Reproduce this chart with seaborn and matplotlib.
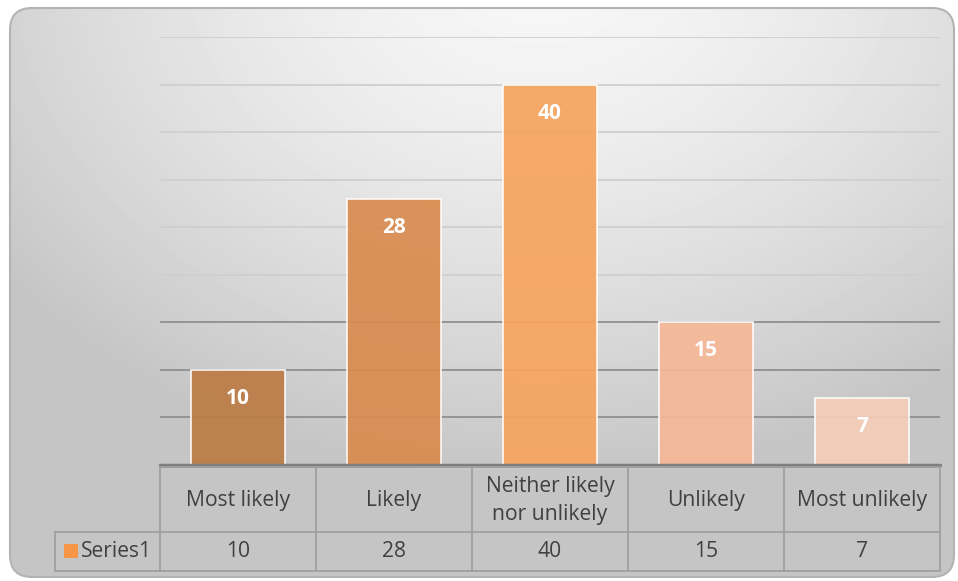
import numpy as np
import pandas as pd
import matplotlib
matplotlib.use("Agg")
import matplotlib.pyplot as plt
from matplotlib.patches import FancyBboxPatch, Rectangle
import seaborn as sns

# Survey response counts
categories = ["Most likely", "Likely", "Neither likely\nnor unlikely", "Unlikely", "Most unlikely"]
values = [10, 28, 40, 15, 7]
series_name = "Series1"
bar_colors = ["#bb7b44", "#d98b4f", "#f7a45e", "#f5b796", "#f4cdb8"]
legend_color = "#f79646"
grid_levels = [5, 10, 15, 20, 25, 30, 35, 40, 45]

sns.set_style("white")
plt.rcParams["font.family"] = ["Open Sans", "DejaVu Sans"]

W, H = 958, 581
fig = plt.figure(figsize=(W / 100, H / 100), dpi=100)
fig.patch.set_facecolor("white")

# Rounded panel with a soft radial gradient
bg = fig.add_axes([0, 0, 1, 1])
bg.set_xlim(0, W)
bg.set_ylim(H, 0)
bg.axis("off")
yy, xx = np.mgrid[0:H, 0:W]
d = np.hypot((xx - 540) * 1.0, (yy + 40) * 1.3)
shade = np.clip(0.97 - 0.21 * (d / 700) ** 1.5, 0.77, 0.97)
img = bg.imshow(shade, cmap="gray", vmin=0, vmax=1, extent=(0, W, H, 0),
                interpolation="bilinear", aspect="auto", zorder=0)
panel = FancyBboxPatch((10, 8), 944, 569, boxstyle="round,pad=0,rounding_size=22",
                       transform=bg.transData, facecolor="none",
                       edgecolor="#b3b3b3", lw=1.5, zorder=2)
bg.add_patch(panel)
img.set_clip_path(panel)

# Plot area
x0, x1 = 160, 940
base_y, top_y = 465, 37
ax = fig.add_axes([x0 / W, (H - base_y) / H, (x1 - x0) / W, (base_y - top_y) / H])
ax.patch.set_alpha(0)

df = pd.DataFrame({"category": categories, "value": values})
sns.barplot(data=df, x="category", y="value", hue="category", palette=bar_colors,
            saturation=1, width=0.6, legend=False, ax=ax, alpha=0.92,
            edgecolor=(1, 1, 1, 0.35), linewidth=1.2, zorder=3)

for lvl in grid_levels:
    ax.axhline(lvl, color="#8f8f8f" if lvl <= 15 else "#cfcfcf", lw=1.3, zorder=1)
ax.axhline(0, color="#7f7f7f", lw=2.5, zorder=4, clip_on=False)

ax.set_ylim(0, 45)
ax.set_xlim(-0.5, len(categories) - 0.5)
ax.set_axis_off()

for i, v in enumerate(values):
    ax.text(i, v - 3.0, str(v), ha="center", va="center", color="white",
            fontweight="bold", fontsize=15, zorder=5)

# Data table beneath the bars
tab = fig.add_axes([0, 0, 1, 1])
tab.set_xlim(0, W)
tab.set_ylim(H, 0)
tab.axis("off")
tab.patch.set_alpha(0)

n = len(categories)
col_w = (x1 - x0) / n
edges = x0 + col_w * np.arange(n + 1)
r0, r1, r2 = 467, 532, 571
left = 55
line_kw = dict(color="#a0a0a0", lw=1.3)
tab.plot([x0, x1], [r0, r0], **line_kw)
tab.plot([left, x1], [r1, r1], **line_kw)
tab.plot([left, x1], [r2, r2], **line_kw)
for e in edges:
    tab.plot([e, e], [r0, r2], **line_kw)
tab.plot([left, left], [r1, r2], **line_kw)

text_color = "#404040"
for i, (cat, v) in enumerate(zip(categories, values)):
    cx = x0 + col_w * (i + 0.5)
    tab.text(cx, (r0 + r1) / 2 + 1, cat, ha="center", va="center", color=text_color,
             fontsize=15.2, linespacing=1.45)
    tab.text(cx, (r1 + r2) / 2, str(v), ha="center", va="center", color=text_color,
             fontsize=15.2)

tab.add_patch(Rectangle((64, 544), 14, 14, facecolor=legend_color, edgecolor="none"))
tab.text(81, (r1 + r2) / 2, series_name, ha="left", va="center", color=text_color,
         fontsize=15.2)

fig.savefig("out.png", dpi=100)
